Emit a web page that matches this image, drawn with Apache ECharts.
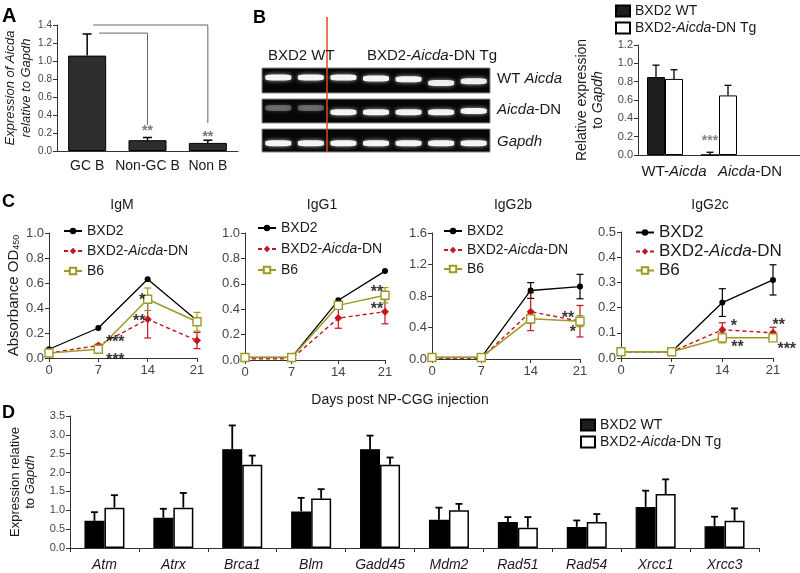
<!DOCTYPE html>
<html><head><meta charset="utf-8">
<script src="https://cdn.jsdelivr.net/npm/echarts@6/dist/echarts.min.js"></script>
<style>html,body{margin:0;padding:0;background:#fff}#main{width:800px;height:573px}</style>
</head><body><div id="main"></div>
<script>
// ================= DATA =================
// Panel A
const aCategories = ['GC B', 'Non-GC B', 'Non B'];
const aValues = [1.06, 0.12, 0.09];
const aErrors = [0.24, 0.03, 0.03];
const aYRange = [0, 1.4, 0.2];
const aBrackets = [[0, 2, 1.40, 0.31], [0, 1, 1.31, 0.29]]; // fromCat, toCat, level, end
const aStars = [[1, 0.26, '**'], [2, 0.20, '**']];

// Panel B (bar)
const bCategories = ['WT-Aicda', 'Aicda-DN', ''];
const bWT = [0.85, 0.0];
const bWTErr = [0.13, 0.03];
const bTg = [0.83, 0.65];
const bTgErr = [0.10, 0.11];
const bYRange = [0, 1.2, 0.2];
const bStars = [[1, 0.19, '***']];

// Panel B (gel)
const gelLanes = [0.5, 1.5, 2.5, 3.5, 4.5, 5.5, 6.5];
const gelRowLabels = ['WT {i|Aicda}', '{i|Aicda}-DN', '{i|Gapdh}'];
const gelWTPos = [0.38, 0.38, 0.38, 0.42, 0.45, 0.6, 0.53];
const gelWTInt = [1, 1, 1, 1, 1, 0.95, 0.95];
const gelDNPos = [0.37, 0.37, 0.55, 0.55, 0.55, 0.55, 0.5];
const gelDNInt = [0.3, 0.3, 1, 1, 1, 1, 1];
const gelGapdhPos = [0.62, 0.62, 0.62, 0.62, 0.62, 0.62, 0.62];
const gelGapdhInt = [1, 1, 1, 1, 1, 1, 1];
const gelDivider = [2];

// Panel C
const cDays = [0, 7, 14, 21];
const cXRange = [0, 21, 7];
const cTitles = ['IgM', 'IgG1', 'IgG2b', 'IgG2c'];
const cYRanges = [[0, 1.0, 0.2], [0, 1.0, 0.2], [0, 1.6, 0.4], [0, 0.5, 0.1]];
const cNames = ['BXD2', 'BXD2-Aicda-DN', 'B6'];

const igmBXD2 = [0.07, 0.24, 0.63, 0.30];
const igmBXD2Err = [0, 0, 0, 0];
const igmDN = [0.04, 0.10, 0.31, 0.14];
const igmDNErr = [0, 0.01, 0.15, 0.065];
const igmB6 = [0.04, 0.07, 0.47, 0.29];
const igmB6Err = [0, 0.01, 0.09, 0.075];
const igmStars = [[13.2, 0.49, '*'], [12.8, 0.32, '**'], [9.4, 0.152, '***'], [9.4, 0.01, '***']];

const igg1BXD2 = [0.02, 0.02, 0.47, 0.70];
const igg1BXD2Err = [0, 0, 0, 0];
const igg1DN = [0.01, 0.01, 0.33, 0.38];
const igg1DNErr = [0, 0, 0.08, 0.095];
const igg1B6 = [0.02, 0.02, 0.43, 0.51];
const igg1B6Err = [0, 0, 0.03, 0.06];
const igg1Stars = [[19.8, 0.56, '**'], [19.8, 0.43, '**']];

const igg2bBXD2 = [0.02, 0.02, 0.87, 0.92];
const igg2bBXD2Err = [0, 0, 0.10, 0.155];
const igg2bDN = [0.01, 0.01, 0.60, 0.48];
const igg2bDNErr = [0, 0, 0.24, 0.20];
const igg2bB6 = [0.02, 0.02, 0.51, 0.48];
const igg2bB6Err = [0, 0, 0.06, 0.07];
const igg2bStars = [[19.3, 0.57, '**'], [20.0, 0.39, '*']];

const igg2cBXD2 = [0.025, 0.025, 0.22, 0.31];
const igg2cBXD2Err = [0, 0, 0.055, 0.06];
const igg2cDN = [0.025, 0.025, 0.112, 0.10];
const igg2cDNErr = [0, 0, 0.028, 0.022];
const igg2cB6 = [0.025, 0.025, 0.08, 0.08];
const igg2cB6Err = [0, 0, 0.02, 0.005];
const igg2cStars = [[15.6, 0.139, '*'], [16.1, 0.056, '**'], [21.8, 0.143, '**'], [22.9, 0.048, '***']];

// Panel D
const dGenes = ['Atm', 'Atrx', 'Brca1', 'Blm', 'Gadd45', 'Mdm2', 'Rad51', 'Rad54', 'Xrcc1', 'Xrcc3'];
const dWT = [0.72, 0.80, 2.62, 0.97, 2.62, 0.75, 0.69, 0.56, 1.09, 0.58];
const dWTErr = [0.23, 0.24, 0.63, 0.36, 0.36, 0.32, 0.13, 0.17, 0.43, 0.25];
const dTg = [1.07, 1.07, 2.21, 1.31, 2.21, 1.00, 0.54, 0.69, 1.43, 0.72];
const dTgErr = [0.33, 0.39, 0.24, 0.25, 0.19, 0.17, 0.28, 0.21, 0.39, 0.33];
const dYRange = [0, 3.5, 0.5];

const barNames = ['BXD2 WT', 'BXD2-Aicda-DN Tg'];

// ================= STYLE =================
const FONT = '"Liberation Sans", Arial, sans-serif';
const TXT = '#1a1a1a';
const TICK = '#444';
const AXC = '#333';
const RED = '#c4161c';
const OLIVE = '#9e9a24';

const grids = [
  {left: 57, top: 25, width: 181, height: 126},     // 0 A
  {left: 638, top: 45, width: 186, height: 110},    // 1 B bar
  {left: 262, top: 68, width: 228, height: 25},     // 2 gel row 1
  {left: 262, top: 99, width: 228, height: 24},     // 3 gel row 2
  {left: 262, top: 129, width: 228, height: 23},    // 4 gel row 3
  {left: 262, top: 17, width: 228, height: 135},    // 5 gel overlay
  {left: 49, top: 233, width: 148, height: 125},    // 6 IgM
  {left: 245, top: 233, width: 140, height: 127},   // 7 IgG1
  {left: 432, top: 233, width: 148, height: 126},   // 8 IgG2b
  {left: 621, top: 232, width: 152, height: 126},   // 9 IgG2c
  {left: 69, top: 416, width: 690, height: 132}     // 10 D
];
grids.forEach((g, i) => {
  if (i >= 2 && i <= 4) { g.show = true; g.backgroundColor = '#060606'; g.borderColor = '#888'; g.borderWidth = 1; }
});

const italicRich = (size) => ({i: {fontStyle: 'italic', fontSize: size, fontFamily: FONT, color: TXT}});

function valY(grid, range, labelSize, extra) {
  return Object.assign({
    gridIndex: grid, type: 'value', min: range[0], max: range[1], interval: range[2],
    axisLine: {show: true, lineStyle: {color: AXC, width: 1}},
    axisTick: {show: true, length: 4, lineStyle: {color: AXC}},
    splitLine: {show: false},
    axisLabel: {fontSize: labelSize, color: TICK, fontFamily: FONT, margin: 5, formatter: v => v.toFixed(1)}
  }, extra || {});
}
function hiddenAxis(grid, min, max, inverse) {
  return {gridIndex: grid, type: 'value', min, max, inverse: !!inverse, show: false, splitLine: {show: false}};
}

const bLabelRich = Object.assign(italicRich(15), {p: {width: 18, fontSize: 15}, q: {width: 62, fontSize: 15}});
const xAxes = [
  {gridIndex: 0, type: 'category', data: aCategories, axisLine: {lineStyle: {color: AXC}}, axisTick: {show: false},
   axisLabel: {interval: 0, hideOverlap: false, fontSize: 14, color: TXT, fontFamily: FONT, margin: 8}},
  {gridIndex: 1, type: 'category', data: bCategories, axisLine: {lineStyle: {color: AXC}}, axisTick: {show: false},
   axisLabel: {interval: 0, hideOverlap: false, fontSize: 15, color: TXT, fontFamily: FONT, margin: 9, rich: bLabelRich,
     formatter: v => v === 'WT-Aicda' ? '{p| }WT-{i|Aicda}' : (v === 'Aicda-DN' ? '{q| }{i|Aicda}-DN' : v)}},
  hiddenAxis(2, 0, 7), hiddenAxis(3, 0, 7), hiddenAxis(4, 0, 7), hiddenAxis(5, 0, 7)
];
const yAxes = [
  valY(0, aYRange, 10, {name: 'Expression of Aicda\nrelative to Gapdh', nameLocation: 'middle', nameGap: 22,
    nameTextStyle: {fontSize: 13, fontStyle: 'italic', color: TXT, fontFamily: FONT, lineHeight: 16}}),
  valY(1, bYRange, 11, {name: 'Relative expression\nto {i|Gapdh}', nameLocation: 'middle', nameGap: 32,
    nameTextStyle: {fontSize: 14, color: TXT, fontFamily: FONT, lineHeight: 16, rich: {i: {fontStyle: 'italic', fontSize: 14, fontFamily: FONT, color: TXT, lineHeight: 16}}}}),
  hiddenAxis(2, 0, 1, true), hiddenAxis(3, 0, 1, true), hiddenAxis(4, 0, 1, true), hiddenAxis(5, 0, 1, true)
];
for (let k = 0; k < 4; k++) {
  const g = 6 + k;
  xAxes.push({gridIndex: g, type: 'value', min: cXRange[0], max: cXRange[1], interval: cXRange[2],
    axisLine: {show: true, lineStyle: {color: AXC}}, axisTick: {show: true, length: 4, lineStyle: {color: AXC}},
    splitLine: {show: false}, axisLabel: {fontSize: 13, color: TICK, fontFamily: FONT, margin: 6}});
  const extra = k === 0 ? {name: 'Absorbance OD{s|450}', nameLocation: 'middle', nameGap: 28,
    nameTextStyle: {fontSize: 15, color: TXT, fontFamily: FONT,
      rich: {s: {fontSize: 9, fontFamily: FONT, color: TXT, lineHeight: 9, verticalAlign: 'bottom'}}}} : {};
  yAxes.push(valY(g, cYRanges[k], 13, extra));
}
xAxes.push({gridIndex: 10, type: 'category', data: dGenes, axisLine: {lineStyle: {color: AXC}},
  axisTick: {show: true, length: 4, lineStyle: {color: AXC}},
  axisLabel: {interval: 0, hideOverlap: false, fontSize: 14, fontStyle: 'italic', color: TXT, fontFamily: FONT, margin: 10}});
yAxes.push(valY(10, dYRange, 11, {name: 'Expression relative\nto {i|Gapdh}', nameLocation: 'middle', nameGap: 32,
  nameTextStyle: {fontSize: 13, color: TXT, fontFamily: FONT, lineHeight: 15, rich: {i: {fontStyle: 'italic', fontSize: 13, fontFamily: FONT, color: TXT, lineHeight: 15}}}}));

// ================= SERIES HELPERS =================
function errorBars(grid, xs, vals, errs, color, opts) {
  const o = Object.assign({offset: 0, cap: 8, width: 1.5, both: false, z: 3}, opts || {});
  return {
    type: 'custom', name: 'err', xAxisIndex: grid, yAxisIndex: grid, z: o.z, silent: true, clip: false,
    renderItem: function (params, api) {
      const x = api.value(0), v = api.value(1), e = api.value(2);
      if (!(e > 0)) return null;
      const pTop = api.coord([x, v + e]);
      const pBot = api.coord([x, o.both ? v - e : v]);
      const cx = pTop[0] + o.offset;
      const st = {stroke: color, lineWidth: o.width};
      const ch = [
        {type: 'line', shape: {x1: cx, y1: pTop[1], x2: cx, y2: pBot[1]}, style: st},
        {type: 'line', shape: {x1: cx - o.cap / 2, y1: pTop[1], x2: cx + o.cap / 2, y2: pTop[1]}, style: st}
      ];
      if (o.both) ch.push({type: 'line', shape: {x1: cx - o.cap / 2, y1: pBot[1], x2: cx + o.cap / 2, y2: pBot[1]}, style: st});
      return {type: 'group', children: ch};
    },
    data: vals.map((v, i) => [xs[i], v, errs[i]])
  };
}
function starSeries(grid, items, color, size, offset) {
  return {
    type: 'scatter', name: 'stars', xAxisIndex: grid, yAxisIndex: grid, symbolSize: 1, silent: true, clip: false, z: 8,
    itemStyle: {color: 'rgba(0,0,0,0)'},
    label: {show: true, position: 'inside', formatter: p => p.data.text, color, fontSize: size, fontWeight: 'bold', fontFamily: FONT,
      offset: offset || [0, 4]},
    data: items.map(s => ({value: [s[0], s[1]], text: s[2]}))
  };
}
function gelRow(grid, pos, inten) {
  return {
    type: 'scatter', name: 'gel', xAxisIndex: grid, yAxisIndex: grid, symbol: 'roundRect', symbolSize: [26, 6], silent: true, z: 3,
    itemStyle: {color: '#f4f4f4', shadowBlur: 4, shadowColor: 'rgba(255,255,255,0.7)'},
    data: gelLanes.map((x, i) => ({value: [x, pos[i]], itemStyle: {opacity: inten[i]}}))
  };
}

const series = [];
const idx = aCategories.map((_, i) => i);
// Panel A
series.push({type: 'bar', name: 'A', xAxisIndex: 0, yAxisIndex: 0, barWidth: 38, data: aValues,
  itemStyle: {color: '#2e2e2e', borderColor: '#000', borderWidth: 1}, z: 2});
series.push(errorBars(0, idx, aValues, aErrors, '#000', {cap: 9, width: 1.5}));
series.push({type: 'custom', name: 'bracket', xAxisIndex: 0, yAxisIndex: 0, silent: true, clip: false, z: 4,
  renderItem: function (params, api) {
    const from = api.value(0), to = api.value(1), lvl = api.value(2), end = api.value(3);
    const s = api.coord([from, lvl]), e = api.coord([to, lvl]), b = api.coord([to, end]);
    const off = [6, 12][params.dataIndex];
    return {type: 'polyline', shape: {points: [[s[0] + off, s[1]], [e[0], e[1]], [b[0], b[1]]]},
      style: {stroke: '#666', lineWidth: 1, fill: null}};
  },
  data: aBrackets});
series.push(starSeries(0, aStars, '#555', 14, [0, 4]));

// Panel B bars
const bIdx = [0, 1];
series.push({type: 'bar', name: barNames[0], xAxisIndex: 1, yAxisIndex: 1, barWidth: 18, barGap: '0%', data: bWT,
  itemStyle: {color: '#1e1e1e', borderColor: '#000', borderWidth: 1}});
series.push({type: 'bar', name: barNames[1], xAxisIndex: 1, yAxisIndex: 1, barWidth: 18, barGap: '0%', data: bTg,
  itemStyle: {color: '#fff', borderColor: '#000', borderWidth: 1}});
series.push(errorBars(1, bIdx, bWT, bWTErr, '#000', {offset: -9, cap: 7, width: 1.3}));
series.push(errorBars(1, bIdx, bTg, bTgErr, '#000', {offset: 9, cap: 7, width: 1.3}));
series.push(starSeries(1, bStars, '#666', 14, [-9, 4]));

// Gel
series.push(gelRow(2, gelWTPos, gelWTInt));
series.push(gelRow(3, gelDNPos, gelDNInt));
series.push(gelRow(4, gelGapdhPos, gelGapdhInt));
series.push({type: 'scatter', name: 'divider', xAxisIndex: 5, yAxisIndex: 5, data: [], z: 10, silent: true,
  markLine: {silent: true, symbol: ['none', 'none'], label: {show: false}, animation: false, z: 10,
    lineStyle: {color: '#e4461e', width: 1.5, type: 'solid', opacity: 1}, data: gelDivider.map(x => ({xAxis: x}))}});

// Panel C
const cData = [
  [igmBXD2, igmBXD2Err, igmDN, igmDNErr, igmB6, igmB6Err, igmStars],
  [igg1BXD2, igg1BXD2Err, igg1DN, igg1DNErr, igg1B6, igg1B6Err, igg1Stars],
  [igg2bBXD2, igg2bBXD2Err, igg2bDN, igg2bDNErr, igg2bB6, igg2bB6Err, igg2bStars],
  [igg2cBXD2, igg2cBXD2Err, igg2cDN, igg2cDNErr, igg2cB6, igg2cB6Err, igg2cStars]
];
cData.forEach((d, k) => {
  const g = 6 + k;
  series.push(errorBars(g, cDays, d[0], d[1], '#000', {both: true, cap: 7, width: 1.2, z: 1}));
  series.push(errorBars(g, cDays, d[2], d[3], RED, {both: true, cap: 7, width: 1.2, z: 1}));
  series.push(errorBars(g, cDays, d[4], d[5], OLIVE, {both: true, cap: 7, width: 1.2, z: 1}));
  series.push({type: 'line', name: cNames[0], xAxisIndex: g, yAxisIndex: g, data: cDays.map((x, i) => [x, d[0][i]]),
    symbol: 'circle', symbolSize: 6, itemStyle: {color: '#000'}, lineStyle: {color: '#000', width: 1.3}, z: 4});
  series.push({type: 'line', name: cNames[1], xAxisIndex: g, yAxisIndex: g, data: cDays.map((x, i) => [x, d[2][i]]),
    symbol: 'diamond', symbolSize: 8, itemStyle: {color: RED}, lineStyle: {color: RED, width: 1.4, type: [4, 3]}, z: 4});
  series.push({type: 'line', name: cNames[2], xAxisIndex: g, yAxisIndex: g, data: cDays.map((x, i) => [x, d[4][i]]),
    symbol: 'rect', symbolSize: 8, itemStyle: {color: '#fff', borderColor: OLIVE, borderWidth: 1.4},
    lineStyle: {color: OLIVE, width: 1.5}, z: 5});
  series.push(starSeries(g, d[6], '#000', 16, [0, 4]));
});

// Panel D
const dIdx = dGenes.map((_, i) => i);
series.push({type: 'bar', name: barNames[0], xAxisIndex: 10, yAxisIndex: 10, barWidth: 20, barGap: '0%', data: dWT,
  itemStyle: {color: '#000', borderColor: '#000', borderWidth: 1.2}});
series.push({type: 'bar', name: barNames[1], xAxisIndex: 10, yAxisIndex: 10, barWidth: 20, barGap: '0%', data: dTg,
  itemStyle: {color: '#fff', borderColor: '#000', borderWidth: 1.5}});
series.push(errorBars(10, dIdx, dWT, dWTErr, '#000', {offset: -10, cap: 7, width: 1.8}));
series.push(errorBars(10, dIdx, dTg, dTgErr, '#000', {offset: 10, cap: 7, width: 1.8}));

// ================= LEGENDS =================
function cLegend(left, top, size, lh, gap) {
  return {data: cNames, orient: 'vertical', left, top, padding: 0, itemWidth: 18, itemHeight: 8, itemGap: gap, selectedMode: false,
    textStyle: {fontSize: size, lineHeight: lh, color: TXT, fontFamily: FONT, rich: italicRich(size)},
    formatter: n => n === 'BXD2-Aicda-DN' ? 'BXD2-{i|Aicda}-DN' : n};
}
function barLegend(left, top, size, gap) {
  return {data: barNames, orient: 'vertical', left, top, padding: 0, icon: 'rect', itemWidth: 14, itemHeight: 11, itemGap: gap, selectedMode: false,
    textStyle: {fontSize: size, lineHeight: size + 2, color: TXT, fontFamily: FONT, rich: italicRich(size)},
    formatter: n => n === 'BXD2-Aicda-DN Tg' ? 'BXD2-{i|Aicda}-DN Tg' : n};
}
const legends = [
  barLegend(615, 3, 14, 1),
  barLegend(580, 417, 14, 1),
  cLegend(63, 223, 14, 16, 4),
  cLegend(257, 220, 14, 16, 5),
  cLegend(443, 223, 14, 16, 3),
  cLegend(635, 224, 17, 17, 2)
];

// ================= TEXT =================
function txt(x, y, text, size, opts) {
  return Object.assign({type: 'text', x, y, silent: true, z: 20,
    style: Object.assign({text, fontSize: size, fontFamily: FONT, fill: TXT, verticalAlign: 'middle', align: 'left', rich: italicRich(size)}, (opts || {}).style || {})},
    (opts || {}).el || {});
}
const graphics = [
  txt(2, 16, 'A', 20, {style: {fontWeight: 'bold', fill: '#000'}}),
  txt(253, 18, 'B', 18, {style: {fontWeight: 'bold', fill: '#000'}}),
  txt(2, 202, 'C', 18, {style: {fontWeight: 'bold', fill: '#000'}}),
  txt(2, 413, 'D', 18, {style: {fontWeight: 'bold', fill: '#000'}}),
  txt(268, 56, 'BXD2 WT', 15),
  txt(367, 56, 'BXD2-{i|Aicda}-DN Tg', 15),
  txt(497, 79, gelRowLabels[0], 15),
  txt(497, 110, gelRowLabels[1], 15),
  txt(497, 142, gelRowLabels[2], 15),
  txt(400, 400, 'Days post NP-CGG injection', 14, {style: {align: 'center'}})
];
const cTitleX = [122, 322, 513, 710];
cTitles.forEach((t, k) => graphics.push(txt(cTitleX[k], 205, t, 14, {style: {align: 'center'}})));

const chart = echarts.init(document.getElementById('main'), null, {renderer: 'canvas'});
chart.setOption({
  animation: false,
  backgroundColor: '#fff',
  textStyle: {fontFamily: FONT},
  grid: grids,
  xAxis: xAxes,
  yAxis: yAxes,
  legend: legends,
  series,
  graphic: graphics
});
</script></body></html>
